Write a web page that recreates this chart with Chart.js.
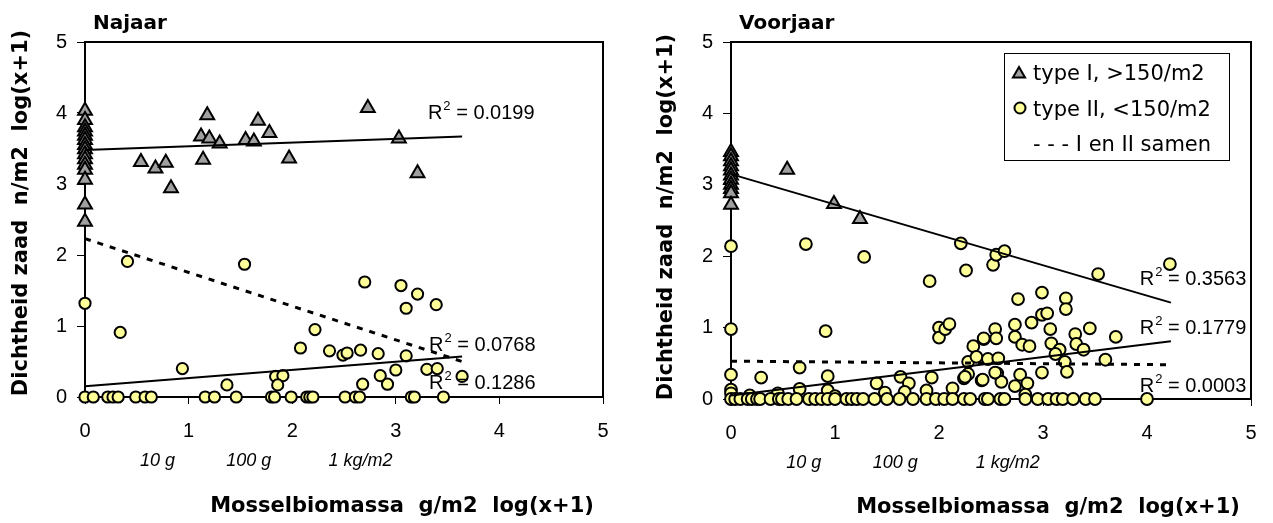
<!DOCTYPE html>
<html>
<head>
<meta charset="utf-8">
<script src="https://cdn.jsdelivr.net/npm/chart.js@4.4.1/dist/chart.umd.min.js"></script>
<style>
  html, body { margin: 0; padding: 0; background: #fff; }
  #wrap { position: relative; width: 1273px; height: 523px; overflow: hidden; }
  canvas { position: absolute; top: 0; }
  #najaarChart { left: 0; }
  #voorjaarChart { left: 640px; }
</style>
</head>
<body>
<div id="wrap">
  <canvas id="najaarChart" width="640" height="523"></canvas>
  <canvas id="voorjaarChart" width="633" height="523"></canvas>
</div>
<script>
"use strict";
const ARIAL = "'Liberation Sans', Arial, sans-serif";
const VERDANA = "'DejaVu Sans', Verdana, sans-serif";
const GREY_FILL = "#a0a0a0";
const YELLOW_FILL = "#ffff99";

const X_TICKS = [0, 1, 2, 3, 4, 5];
const Y_TICKS = [0, 1, 2, 3, 4, 5];
const MASS_LABELS = ["10 g", "100 g", "1 kg/m2"];
const MASS_AT = [0.7, 1.58, 2.66];

// Najaar, type I (triangles)
const najaarIX = [0, 0, 0, 0, 0, 0, 0, 0, 0, 0, 0, 0, 0, 0, 0,
  0.54, 0.68, 0.78, 0.83, 1.14, 1.12, 1.18, 1.2, 1.3, 1.55, 1.63, 1.67, 1.78, 1.97, 2.73, 3.03, 3.21];
const najaarIY = [4.03, 3.9, 3.8, 3.74, 3.68, 3.62, 3.55, 3.49, 3.42, 3.35, 3.27, 3.2, 3.06, 2.71, 2.47,
  3.31, 3.22, 3.3, 2.94, 3.34, 3.67, 3.97, 3.64, 3.57, 3.62, 3.6, 3.89, 3.72, 3.36, 4.07, 3.64, 3.15];

// Najaar, type II (circles)
const najaarIIX = [0, 0.41, 0.34, 0.94, 1.54, 1.37, 1.84, 1.91, 1.86, 2.08, 2.22, 2.36, 2.49, 2.53, 2.66,
  2.83, 3.1, 2.7, 3.05, 3.21, 3.1, 3.39, 2.68, 2.85, 2.92, 3.0, 3.3, 3.4, 3.64,
  0, 0.08, 0.22, 0.27, 0.32, 0.49, 0.58, 0.64, 1.16, 1.25, 1.46, 1.8, 1.83, 1.99, 2.14, 2.17, 2.2,
  2.51, 2.61, 2.65, 3.15, 3.18, 3.46];
const najaarIIY = [1.32, 1.91, 0.91, 0.4, 1.87, 0.17, 0.29, 0.3, 0.17, 0.69, 0.95, 0.65, 0.59, 0.62, 0.66,
  0.61, 0.58, 1.62, 1.57, 1.45, 1.25, 1.3, 0.18, 0.3, 0.18, 0.38, 0.39, 0.4, 0.29,
  0, 0, 0, 0, 0, 0, 0, 0, 0, 0, 0, 0, 0, 0, 0, 0, 0,
  0, 0, 0, 0, 0, 0];

// trend lines (end points), Najaar
const najaarFitIX = [0, 3.64];
const najaarFitIY = [3.48, 3.67];
const najaarFitIIX = [0, 3.64];
const najaarFitIIY = [0.15, 0.57];
const najaarFitAllX = [0, 3.64];
const najaarFitAllY = [2.23, 0.5];
const najaarR2 = ["0.0199", "0.0768", "0.1286"];

// Voorjaar, type I (triangles)
const voorjaarIX = [0, 0, 0, 0, 0, 0, 0, 0, 0, 0, 0, 0.54, 0.99, 1.24];
const voorjaarIY = [3.46, 3.4, 3.33, 3.26, 3.2, 3.13, 3.07, 3.0, 2.94, 2.88, 2.72, 3.21, 2.73, 2.52];

// Voorjaar, type II (circles)
const voorjaarIIX = [0, 0.72, 1.28, 2.21, 2.26, 1.91, 2.52, 2.55, 2.63, 3.53, 4.22,
  0, 0.91, 2.0, 2.0, 2.06, 2.1,
  0, 0.29, 0.66, 0.93, 0, 0, 0.66, 0.93, 1.4, 1.63, 1.71, 1.48, 1.67, 1.93, 1.88, 2.13, 2.24, 2.41,
  2.28, 2.33, 2.43, 2.28, 2.36, 2.47, 0.45,
  2.76, 2.99, 3.22, 3.22, 2.99, 3.04, 2.89, 2.73, 2.54, 2.43, 2.55, 2.73, 2.8, 2.87, 3.07, 3.08,
  3.16, 3.12, 3.31, 3.32, 3.39, 3.45, 3.7, 3.6, 3.21, 3.23, 2.99, 2.57, 2.56, 2.42, 2.6, 2.73,
  2.78, 2.85, 2.25, 2.54, 2.83, 0.18, 1.0,
  0, 0.04, 0.09, 0.16, 0.2, 0.25, 0.28, 0.38, 0.46, 0.49, 0.55, 0.63, 0.75, 0.81, 0.87, 0.93, 1.0,
  1.11, 1.16, 1.21, 1.27, 1.38, 1.5, 1.62, 1.75, 1.88, 1.97, 2.05, 2.13, 2.24, 2.3, 2.44, 2.47,
  2.59, 2.63, 2.83, 2.95, 3.05, 3.13, 3.19, 3.29, 3.41, 3.5, 4.0];
const voorjaarIIY = [2.14, 2.17, 1.99, 2.18, 1.8, 1.65, 1.88, 2.02, 2.07, 1.75, 1.89,
  0.98, 0.95, 1.0, 0.86, 0.98, 1.05,
  0.34, 0.3, 0.44, 0.32, 0.13, 0.08, 0.14, 0.12, 0.22, 0.31, 0.22, 0.09, 0.1, 0.3, 0.12, 0.15, 0.29, 0.26,
  0.35, 0.74, 0.84, 0.52, 0.59, 0.56, 0.08,
  1.4, 1.49, 1.41, 1.26, 1.18, 1.2, 1.07, 1.04, 0.98, 0.85, 0.85, 0.87, 0.76, 0.74, 0.98, 0.78,
  0.69, 0.63, 0.91, 0.77, 0.69, 0.99, 0.87, 0.55, 0.52, 0.38, 0.37, 0.57, 0.36, 0.27, 0.24, 0.18,
  0.34, 0.22, 0.31, 0.37, 0.06, 0.05, 0.04,
  0, 0, 0, 0, 0, 0, 0, 0, 0, 0, 0, 0, 0, 0, 0, 0, 0,
  0, 0, 0, 0, 0, 0, 0, 0, 0, 0, 0, 0, 0, 0, 0, 0,
  0, 0, 0, 0, 0, 0, 0, 0, 0, 0, 0];

// trend lines (end points), Voorjaar
const voorjaarFitIX = [0, 4.23];
const voorjaarFitIY = [3.15, 1.35];
const voorjaarFitIIX = [0, 4.23];
const voorjaarFitIIY = [0.05, 0.81];
const voorjaarFitAllX = [0, 4.23];
const voorjaarFitAllY = [0.53, 0.48];
const voorjaarR2 = ["0.3563", "0.1779", "0.0003"];

const LEGEND_TEXT = ["type I, >150/m2", "type II, <150/m2", "- - - I en II samen"];

function toPoints(xs, ys) {
  return xs.map((x, i) => ({ x: x, y: ys[i] }));
}

function drawR2(ctx, x, y, value) {
  ctx.font = "20px " + ARIAL;
  ctx.fillText("R", x, y);
  const w = ctx.measureText("R").width;
  ctx.font = "13px " + ARIAL;
  ctx.fillText("2", x + w + 1, y - 9);
  const w2 = ctx.measureText("2").width;
  ctx.font = "20px " + ARIAL;
  ctx.fillText(" = " + value, x + w + 1 + w2, y);
}

const notesPlugin = {
  id: "notes",
  beforeDatasetsDraw(chart) {
    const { ctx, chartArea: a } = chart;
    ctx.save();
    ctx.strokeStyle = "#000";
    ctx.lineWidth = 2;
    ctx.beginPath();
    ctx.moveTo(a.left, a.top);
    ctx.lineTo(a.right, a.top);
    ctx.lineTo(a.right, a.bottom);
    ctx.stroke();
    ctx.restore();
  },
  afterDraw(chart, args, opts) {
    const { ctx, chartArea: a } = chart;
    const xs = chart.scales.x;
    const ys = chart.scales.y;
    ctx.save();
    ctx.fillStyle = "#000";
    ctx.textBaseline = "alphabetic";

    // chart title
    ctx.textAlign = "left";
    ctx.font = "bold 20px " + VERDANA;
    ctx.fillText(opts.title, a.left + 8, 29);

    // axis titles
    ctx.textAlign = "center";
    ctx.font = "bold 21px " + VERDANA;
    ctx.fillText("Mosselbiomassa  g/m2  log(x+1)", a.left + 317, opts.xTitleY);
    ctx.save();
    ctx.translate(opts.yTitleX, opts.yTitleMid);
    ctx.rotate(-Math.PI / 2);
    ctx.textBaseline = "middle";
    ctx.fillText("Dichtheid zaad  n/m2  log(x+1)", 0, 0);
    ctx.restore();

    // biomass hints
    ctx.font = "italic 18px " + ARIAL;
    MASS_LABELS.forEach((t, i) => {
      ctx.fillText(t, xs.getPixelForValue(MASS_AT[i]), a.bottom + 69);
    });

    // R2 labels
    ctx.textAlign = "left";
    opts.r2.forEach((v, i) => {
      const p = opts.r2At[i];
      drawR2(ctx, xs.getPixelForValue(p[0]), ys.getPixelForValue(p[1]), v);
    });

    // legend
    if (opts.legend) {
      const lx = a.right - 247;
      const ly = a.top + 11;
      ctx.strokeStyle = "#000";
      ctx.lineWidth = 1;
      ctx.strokeRect(lx + 0.5, ly + 0.5, 225, 107);
      ctx.lineWidth = 2;
      ctx.fillStyle = GREY_FILL;
      Chart.helpers.drawPoint(ctx, { pointStyle: "triangle", radius: 7, borderWidth: 2 }, lx + 15, ly + 21);
      ctx.fillStyle = YELLOW_FILL;
      Chart.helpers.drawPoint(ctx, { pointStyle: "circle", radius: 5.5, borderWidth: 2 }, lx + 16, ly + 55);
      ctx.fillStyle = "#000";
      ctx.font = "21px " + VERDANA;
      LEGEND_TEXT.forEach((t, i) => {
        ctx.fillText(t, lx + 29, ly + 27 + i * 35.7);
      });
    }
    ctx.restore();
  },
};

function makeChart(id, cfg) {
  const ctx = document.getElementById(id).getContext("2d");
  const fitLine = (xs, ys, dash) => ({
    data: toPoints(xs, ys),
    showLine: true,
    borderColor: "#000",
    borderWidth: dash ? 3 : 2,
    borderDash: dash ? [6, 7] : [],
    pointRadius: 0,
    order: 0,
    clip: false,
  });
  return new Chart(ctx, {
    type: "scatter",
    data: {
      datasets: [
        {
          data: toPoints(cfg.ix, cfg.iy),
          pointStyle: "triangle",
          pointRadius: 8,
          backgroundColor: GREY_FILL,
          borderColor: "#000",
          borderWidth: 2,
          order: 2,
          clip: false,
        },
        {
          data: toPoints(cfg.iix, cfg.iiy),
          pointStyle: "circle",
          pointRadius: cfg.dot,
          backgroundColor: YELLOW_FILL,
          borderColor: "#000",
          borderWidth: 2,
          order: 1,
          clip: false,
        },
        fitLine(cfg.fitIX, cfg.fitIY, false),
        fitLine(cfg.fitIIX, cfg.fitIIY, false),
        fitLine(cfg.fitAllX, cfg.fitAllY, true),
      ],
    },
    options: {
      responsive: false,
      animation: false,
      events: [],
      layout: { padding: { left: 0, right: cfg.padRight, top: 42, bottom: 0 } },
      scales: {
        x: {
          type: "linear",
          min: 0,
          max: 5,
          afterBuildTicks: (s) => { s.ticks = X_TICKS.map((v) => ({ value: v })); },
          afterFit: (s) => { s.height = cfg.xHeight; },
          ticks: { color: "#000", padding: 15, font: { family: ARIAL, size: 20 } },
          grid: { drawOnChartArea: false, drawTicks: true, tickLength: 7, tickColor: "#000", tickWidth: 1 },
          border: { color: "#000", width: 2 },
        },
        y: {
          type: "linear",
          min: 0,
          max: 5,
          afterBuildTicks: (s) => { s.ticks = Y_TICKS.map((v) => ({ value: v })); },
          afterFit: (s) => { s.width = cfg.yWidth; },
          ticks: { color: "#000", padding: 10, font: { family: ARIAL, size: 20 } },
          grid: { drawOnChartArea: false, drawTicks: true, tickLength: 8, tickColor: "#000", tickWidth: 1 },
          border: { color: "#000", width: 2 },
        },
      },
      plugins: {
        legend: { display: false },
        tooltip: { enabled: false },
        notes: {
          title: cfg.title,
          r2: cfg.r2,
          r2At: cfg.r2At,
          legend: cfg.legend,
          xTitleY: cfg.xTitleY,
          yTitleX: cfg.yTitleX,
          yTitleMid: cfg.yTitleMid,
        },
      },
    },
    plugins: [notesPlugin],
  });
}

makeChart("najaarChart", {
  title: "Najaar",
  ix: najaarIX, iy: najaarIY, iix: najaarIIX, iiy: najaarIIY,
  fitIX: najaarFitIX, fitIY: najaarFitIY,
  fitIIX: najaarFitIIX, fitIIY: najaarFitIIY,
  fitAllX: najaarFitAllX, fitAllY: najaarFitAllY,
  r2: najaarR2,
  r2At: [[3.31, 3.92], [3.32, 0.65], [3.32, 0.11]],
  dot: 5.6,
  legend: false,
  padRight: 37,
  yWidth: 85,
  xHeight: 126,
  xTitleY: 512,
  yTitleX: 22,
  yTitleMid: 213,
});

makeChart("voorjaarChart", {
  title: "Voorjaar",
  ix: voorjaarIX, iy: voorjaarIY, iix: voorjaarIIX, iiy: voorjaarIIY,
  fitIX: voorjaarFitIX, fitIY: voorjaarFitIY,
  fitIIX: voorjaarFitIIX, fitIIY: voorjaarFitIIY,
  fitAllX: voorjaarFitAllX, fitAllY: voorjaarFitAllY,
  r2: voorjaarR2,
  r2At: [[3.93, 1.59], [3.93, 0.91], [3.93, 0.1]],
  dot: 5.9,
  legend: true,
  padRight: 22,
  yWidth: 91,
  xHeight: 124,
  xTitleY: 513,
  yTitleX: 27,
  yTitleMid: 217,
});
</script>
</body>
</html>
